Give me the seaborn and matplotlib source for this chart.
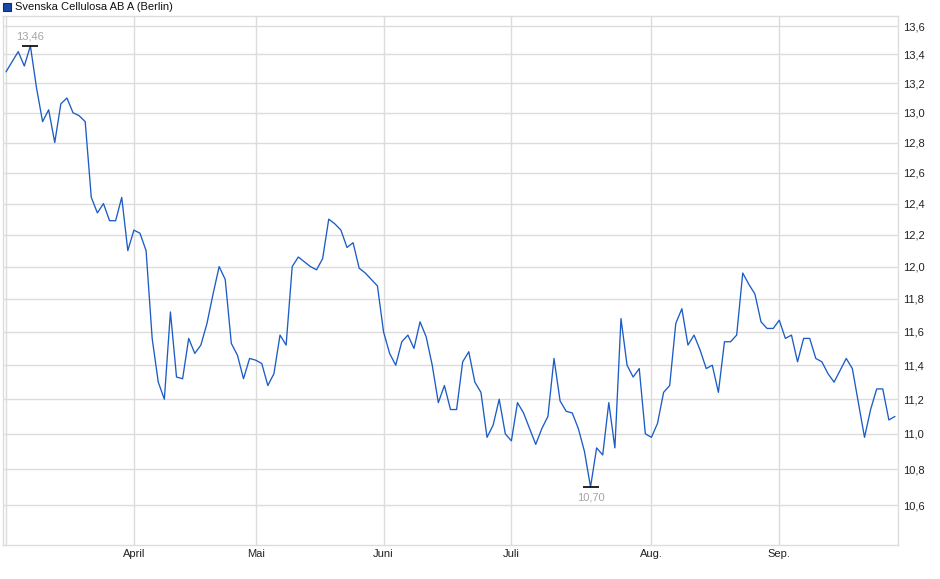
import numpy as np
import matplotlib
matplotlib.use('Agg')
import matplotlib.pyplot as plt
import seaborn as sns
from matplotlib.ticker import FixedLocator, NullLocator, FuncFormatter
from matplotlib.patches import Rectangle

# Schlusskurse je Handelstag (Börse Berlin), März bis Sep.
kurse = [13.28, 13.35, 13.42, 13.32, 13.46, 13.17, 12.94, 13.02, 12.80, 13.06,
         13.10, 13.00, 12.98, 12.94, 12.44, 12.34, 12.40, 12.29, 12.29, 12.44,
         12.10, 12.23, 12.21, 12.10, 11.56, 11.30, 11.20, 11.72, 11.33, 11.32,
         11.56, 11.47, 11.52, 11.65, 11.83, 12.00, 11.92, 11.53, 11.46, 11.32,
         11.44, 11.43, 11.41, 11.28, 11.35, 11.58, 11.52, 12.00, 12.06, 12.03,
         12.00, 11.98, 12.05, 12.30, 12.27, 12.23, 12.12, 12.15, 11.99, 11.96,
         11.92, 11.88, 11.60, 11.47, 11.40, 11.54, 11.58, 11.50, 11.66, 11.57,
         11.40, 11.18, 11.28, 11.14, 11.14, 11.42, 11.48, 11.30, 11.24, 10.98,
         11.05, 11.20, 11.00, 10.96, 11.18, 11.12, 11.03, 10.94, 11.03, 11.10,
         11.44, 11.19, 11.13, 11.12, 11.03, 10.90, 10.70, 10.92, 10.88, 11.18,
         10.92, 11.68, 11.40, 11.33, 11.38, 11.00, 10.98, 11.06, 11.24, 11.28,
         11.65, 11.74, 11.52, 11.58, 11.49, 11.38, 11.40, 11.24, 11.54, 11.54,
         11.58, 11.96, 11.89, 11.83, 11.66, 11.62, 11.62, 11.67, 11.56, 11.58,
         11.42, 11.56, 11.56, 11.44, 11.42, 11.35, 11.30, 11.37, 11.44, 11.38,
         11.18, 10.98, 11.14, 11.26, 11.26, 11.08, 11.10]

# erster Handelstag je Monat (Index) und Beschriftung
monat_pos = [21, 41, 62, 83, 106, 127]
monat_namen = ['April', 'Mai', 'Juni', 'Juli', 'Aug.', 'Sep.']
y_ticks = [10.6, 10.8, 11.0, 11.2, 11.4, 11.6, 11.8, 12.0, 12.2, 12.4, 12.6, 12.8, 13.0, 13.2, 13.4, 13.6]

titel = 'Svenska Cellulosa AB A (Berlin)'
linienfarbe = '#1c5cc6'
gitter = '#dcdcdc'

sns.set_theme(style='white')
plt.rcParams['font.family'] = ['Liberation Sans', 'DejaVu Sans']

fig = plt.figure(figsize=(9.4, 5.79), dpi=100)
ax = fig.add_axes([3 / 940, 1 - 545 / 579, 895 / 940, 529 / 579])

tage = np.arange(len(kurse))
sns.lineplot(x=tage, y=kurse, ax=ax, color=linienfarbe, linewidth=0.95)

ax.set_yscale('log')
ax.set_ylim(10.382, 13.671)
ax.set_xlim(-0.5, len(kurse) - 0.5)

ax.yaxis.set_major_locator(FixedLocator(y_ticks))
ax.yaxis.set_minor_locator(NullLocator())
ax.yaxis.set_major_formatter(FuncFormatter(lambda v, p: f'{v:.1f}'.replace('.', ',')))
ax.yaxis.tick_right()
ax.set_xticks(monat_pos)
ax.set_xticklabels(monat_namen)
ax.xaxis.set_minor_locator(NullLocator())

ax.grid(True, which='major', color=gitter, linewidth=1.0)
ax.axvline(0, color=gitter, linewidth=1.0, zorder=0)
ax.set_axisbelow(True)
for s in ax.spines.values():
    s.set_color(gitter)
    s.set_linewidth(1.0)

ax.tick_params(axis='both', length=0, labelsize=8, colors='#222222')
ax.tick_params(axis='y', pad=3.5)
ax.tick_params(axis='x', pad=3)
ax.set_xlabel('')
ax.set_ylabel('')

# Hoch und Tief markieren
i_max = int(np.argmax(kurse))
i_min = int(np.argmin(kurse))
for i, versatz, va in [(i_max, 3, 'bottom'), (i_min, -4, 'top')]:
    ax.plot(i, kurse[i], marker='_', color='black', markersize=12, markeredgewidth=1.2)
    ax.annotate(f'{kurse[i]:.2f}'.replace('.', ','), (i, kurse[i]), xytext=(0, versatz),
                textcoords='offset points', ha='center', va=va, fontsize=8, color='#a4a4a4')

# Legende oben links
fig.patches.append(Rectangle((3 / 940, 1 - 11 / 579), 8 / 940, 8 / 579, transform=fig.transFigure,
                             facecolor='#1848a8', edgecolor='#10306a', linewidth=0.8))
fig.text(15 / 940, 1 - 7 / 579, titel, fontsize=8, va='center', ha='left', color='#111111')

fig.savefig('out.png', dpi=100)
